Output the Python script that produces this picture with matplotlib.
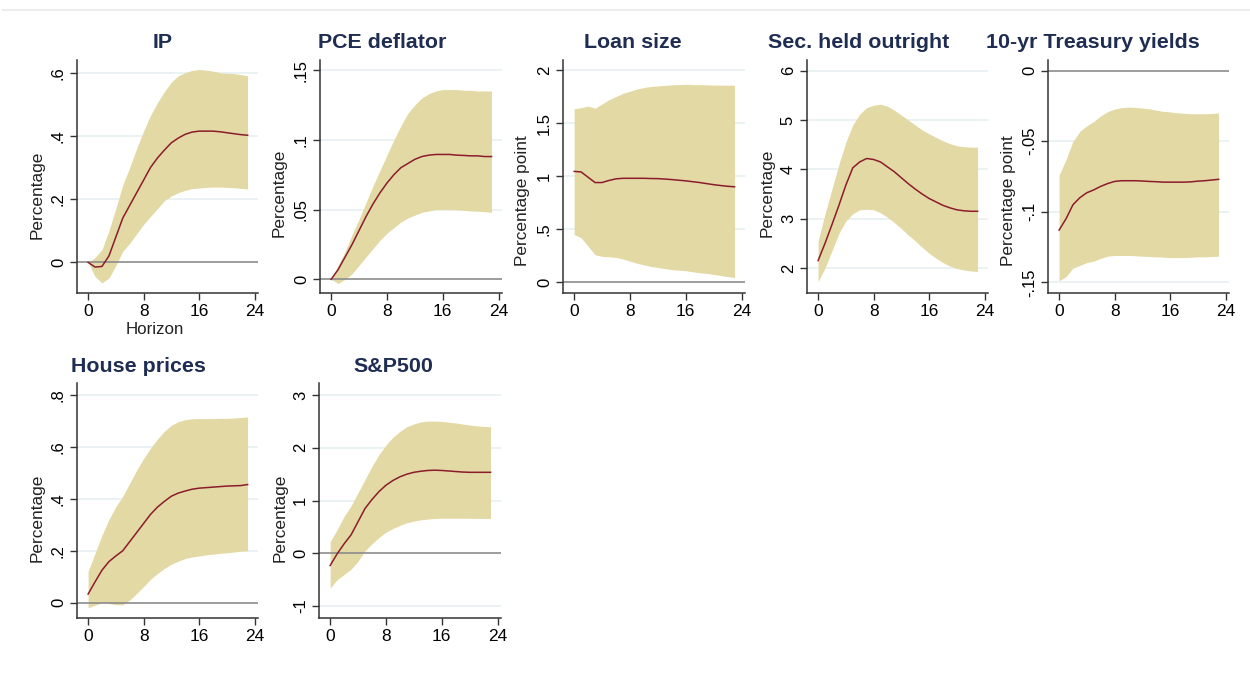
import matplotlib.pyplot as plt
import numpy as np

plt.rcParams['font.family'] = ['Liberation Sans', 'DejaVu Sans']

h = np.arange(24)

# IP
ip_mean = [0, -0.015, -0.013, 0.02, 0.08, 0.14, 0.18, 0.22, 0.26, 0.30, 0.33, 0.355,
           0.378, 0.393, 0.405, 0.412, 0.415, 0.415, 0.415, 0.413, 0.41, 0.407, 0.404, 0.402]
ip_hi = [0.0, 0.015, 0.04, 0.10, 0.17, 0.245, 0.30, 0.36, 0.415, 0.465, 0.505, 0.54,
         0.57, 0.59, 0.60, 0.607, 0.61, 0.608, 0.605, 0.60, 0.598, 0.597, 0.594, 0.59]
ip_lo = [0.0, -0.045, -0.065, -0.05, -0.01, 0.035, 0.06, 0.09, 0.12, 0.145, 0.17, 0.195,
         0.21, 0.22, 0.228, 0.233, 0.235, 0.237, 0.238, 0.238, 0.237, 0.236, 0.234, 0.232]

# PCE deflator
pce_mean = [0, 0.007, 0.016, 0.025, 0.035, 0.045, 0.054, 0.062, 0.069, 0.075, 0.08, 0.083,
            0.086, 0.088, 0.089, 0.0895, 0.0895, 0.0895, 0.089, 0.0888, 0.0885, 0.0885, 0.088, 0.088]
pce_hi = [0.0, 0.01, 0.02, 0.032, 0.043, 0.055, 0.067, 0.078, 0.089, 0.10, 0.11, 0.119,
          0.125, 0.13, 0.133, 0.135, 0.136, 0.136, 0.136, 0.1355, 0.1355, 0.135, 0.135, 0.135]
pce_lo = [0.0, -0.003, 0.0, 0.004, 0.01, 0.016, 0.022, 0.028, 0.033, 0.037, 0.041, 0.044,
          0.046, 0.048, 0.049, 0.05, 0.05, 0.05, 0.0498, 0.0495, 0.049, 0.0488, 0.0485, 0.048]

# Loan size
loan_mean = [1.045, 1.04, 0.99, 0.94, 0.94, 0.96, 0.975, 0.98, 0.98, 0.98, 0.98, 0.978,
             0.977, 0.973, 0.968, 0.962, 0.956, 0.948, 0.94, 0.93, 0.92, 0.912, 0.905, 0.90]
loan_hi = [1.635, 1.645, 1.66, 1.64, 1.68, 1.72, 1.75, 1.78, 1.80, 1.82, 1.835, 1.845,
           1.85, 1.855, 1.86, 1.862, 1.865, 1.862, 1.862, 1.86, 1.858, 1.857, 1.857, 1.857]
loan_lo = [0.45, 0.42, 0.34, 0.26, 0.245, 0.24, 0.235, 0.22, 0.20, 0.18, 0.165, 0.15,
           0.14, 0.13, 0.12, 0.115, 0.11, 0.10, 0.09, 0.085, 0.075, 0.065, 0.055, 0.045]

# Securities held outright
sec_mean = [2.15, 2.5, 2.88, 3.27, 3.68, 4.03, 4.15, 4.22, 4.20, 4.15, 4.05, 3.95,
            3.83, 3.71, 3.60, 3.50, 3.41, 3.34, 3.27, 3.22, 3.18, 3.16, 3.15, 3.15]
sec_hi = [2.55, 3.1, 3.6, 4.1, 4.55, 4.9, 5.12, 5.25, 5.30, 5.32, 5.28, 5.20,
          5.10, 5.00, 4.90, 4.80, 4.72, 4.65, 4.58, 4.52, 4.48, 4.46, 4.45, 4.45]
sec_lo = [1.72, 2.0, 2.35, 2.7, 2.95, 3.1, 3.18, 3.19, 3.18, 3.12, 3.03, 2.92,
          2.80, 2.67, 2.55, 2.42, 2.30, 2.20, 2.11, 2.04, 1.99, 1.96, 1.94, 1.93]

# 10-yr Treasury yields
ty_mean = [-0.113, -0.105, -0.095, -0.09, -0.0865, -0.0845, -0.082, -0.08, -0.0785, -0.078,
           -0.078, -0.078, -0.0782, -0.0785, -0.0787, -0.079, -0.079, -0.079, -0.079, -0.0788,
           -0.0783, -0.078, -0.0775, -0.077]
ty_hi = [-0.074, -0.063, -0.05, -0.043, -0.039, -0.036, -0.032, -0.029, -0.0272, -0.0262,
         -0.0258, -0.026, -0.0265, -0.027, -0.028, -0.0288, -0.0292, -0.0298, -0.0302, -0.0305,
         -0.0305, -0.0305, -0.0303, -0.030]
ty_lo = [-0.149, -0.146, -0.14, -0.138, -0.136, -0.135, -0.133, -0.1315, -0.131, -0.131,
         -0.131, -0.1312, -0.1315, -0.1318, -0.132, -0.1322, -0.1325, -0.1325, -0.1325, -0.1323,
         -0.132, -0.132, -0.1318, -0.1315]

# House prices
hp_mean = [0.033, 0.08, 0.125, 0.158, 0.18, 0.20, 0.235, 0.27, 0.305, 0.34, 0.368, 0.39,
           0.41, 0.422, 0.43, 0.437, 0.441, 0.443, 0.445, 0.447, 0.449, 0.45, 0.451, 0.455]
hp_hi = [0.12, 0.19, 0.26, 0.32, 0.37, 0.41, 0.46, 0.51, 0.555, 0.595, 0.63, 0.66,
         0.683, 0.697, 0.705, 0.708, 0.709, 0.709, 0.709, 0.71, 0.71, 0.711, 0.713, 0.715]
hp_lo = [-0.02, -0.01, 0.0, -0.003, -0.008, -0.008, 0.01, 0.035, 0.062, 0.09, 0.112, 0.132,
         0.148, 0.16, 0.17, 0.176, 0.18, 0.184, 0.187, 0.19, 0.192, 0.195, 0.198, 0.20]

# S&P500
sp_mean = [-0.23, -0.01, 0.18, 0.35, 0.6, 0.85, 1.02, 1.17, 1.29, 1.38, 1.45, 1.50,
           1.535, 1.555, 1.57, 1.575, 1.57, 1.56, 1.55, 1.54, 1.535, 1.535, 1.535, 1.535]
sp_hi = [0.22, 0.45, 0.7, 0.9, 1.15, 1.4, 1.65, 1.87, 2.05, 2.2, 2.31, 2.40,
         2.45, 2.49, 2.505, 2.505, 2.50, 2.485, 2.47, 2.45, 2.43, 2.415, 2.405, 2.40]
sp_lo = [-0.66, -0.5, -0.4, -0.3, -0.15, 0.05, 0.18, 0.3, 0.4, 0.47, 0.53, 0.58,
         0.61, 0.635, 0.65, 0.66, 0.665, 0.665, 0.665, 0.665, 0.663, 0.662, 0.66, 0.66]

W, H = 1250, 682
fig = plt.figure(figsize=(12.5, 6.82), dpi=100)

band_col = '#e3d9a5'
line_col = '#8b1c2c'
title_col = '#1f2d52'
grid_col = '#e8f0f2'

# faint rule at top (remains of caption)
fig.add_artist(plt.Line2D([3 / W, 1], [1 - 9.5 / H, 1 - 9.5 / H], color='#ececec', lw=1.5))


def panel(left, right, top, bottom, ylim, yticks, ylabels, mean, lo, hi,
          title, tx, ty, ylab, lx, ly):
    ax = fig.add_axes([left / W, 1 - bottom / H, (right - left) / W, (bottom - top) / H])
    for t in yticks:
        if t == 0:
            continue
        ax.axhline(t, color=grid_col, lw=1.2, zorder=0)
    ax.fill_between(h, lo, hi, color=band_col, lw=0, zorder=1)
    ax.axhline(0, color='#8c8c8c', lw=1.2, zorder=2)
    ax.plot(h, mean, color=line_col, lw=1.1, zorder=3)
    ax.set_xlim(-1.6, 24.5)
    ax.set_ylim(*ylim)
    ax.set_xticks([0, 8, 16, 24])
    ax.set_xticklabels(['0', '8', '16', '24'], fontsize=12.5)
    ax.set_yticks(yticks)
    ax.set_yticklabels(ylabels, fontsize=12, rotation=90, va='center')
    ax.tick_params(length=5, width=1, color='#333333', pad=3)
    for s in ['top', 'right']:
        ax.spines[s].set_visible(False)
    for s in ['left', 'bottom']:
        ax.spines[s].set_color('#333333')
        ax.spines[s].set_linewidth(1.1)
    fig.text(tx / W, 1 - ty / H, title, ha='center', va='center', fontsize=15.4,
             fontweight='bold', color=title_col)
    fig.text(lx / W, 1 - ly / H, ylab, ha='center', va='center', rotation=90,
             fontsize=12.4, color='#222222')
    return ax


panel(77, 258, 60, 293, (-0.097, 0.64), [0, 0.2, 0.4, 0.6], ['0', '.2', '.4', '.6'],
      ip_mean, ip_lo, ip_hi, 'IP', 163, 43, 'Percentage', 37, 195)
fig.text(155 / W, 1 - 329 / H, 'Horizon', ha='center', va='center', fontsize=12.2, color='#222222')

panel(320, 502, 60, 293, (-0.0098, 0.1572), [0, 0.05, 0.1, 0.15], ['0', '.05', '.1', '.15'],
      pce_mean, pce_lo, pce_hi, 'PCE deflator', 382, 43, 'Percentage', 279, 193)

panel(563, 745, 60, 293, (-0.10, 2.094), [0, 0.5, 1, 1.5, 2], ['0', '.5', '1', '1.5', '2'],
      loan_mean, loan_lo, loan_hi, 'Loan size', 633, 43, 'Percentage point', 523, 201)

panel(807, 988, 60, 293, (1.493, 6.217), [2, 3, 4, 5, 6], ['2', '3', '4', '5', '6'],
      sec_mean, sec_lo, sec_hi, 'Sec. held outright', 859, 43, 'Percentage', 767, 193)

panel(1048, 1229, 60, 293, (-0.1576, 0.0076), [-0.15, -0.1, -0.05, 0], ['-.15', '-.1', '-.05', '0'],
      ty_mean, ty_lo, ty_hi, '10-yr Treasury yields', 1093, 43, 'Percentage point', 1009, 201)

panel(77, 258, 383, 618, (-0.059, 0.846), [0, 0.2, 0.4, 0.6, 0.8], ['0', '.2', '.4', '.6', '.8'],
      hp_mean, hp_lo, hp_hi, 'House prices', 138, 367, 'Percentage', 37, 518)

panel(319, 501, 383, 618, (-1.225, 3.227), [-1, 0, 1, 2, 3], ['-1', '0', '1', '2', '3'],
      sp_mean, sp_lo, sp_hi, 'S&P500', 393, 367, 'Percentage', 280, 518)

fig.savefig('out.png', dpi=100)
